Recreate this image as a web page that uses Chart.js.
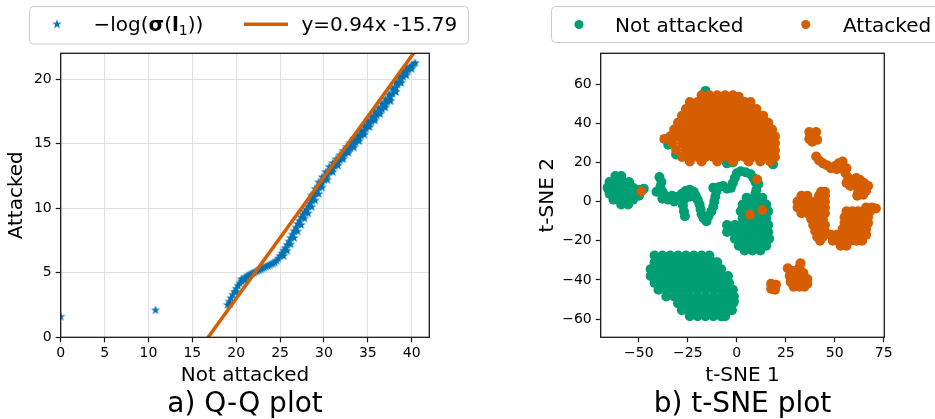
<!DOCTYPE html>
<html>
<head>
<meta charset="utf-8">
<script src="https://cdn.jsdelivr.net/npm/chart.js@4.4.1/dist/chart.umd.min.js"></script>
<style>
  html, body { margin: 0; padding: 0; background: #fff; overflow: hidden; width: 935px; height: 419px; }
  canvas { position: absolute; top: 0; }
  #qq { left: 0; }
  #tsne { left: 520px; }
</style>
</head>
<body>
<canvas id="qq" width="500" height="419"></canvas>
<canvas id="tsne" width="480" height="419"></canvas>
<script>
// ---- a) Q-Q plot ----
const qqLabel = "−log(σ(l₁))";
const qqPoints = [
  [0, 1.6], [10.8, 2.1],
  [19.0, 2.5], [19.2, 2.77], [19.4, 3.03], [19.6, 3.3], [19.8, 3.53], [20.0, 3.77], [20.2, 4.0],
  [20.4, 4.17], [20.6, 4.33], [20.8, 4.5], [21.0, 4.6], [21.2, 4.7], [21.4, 4.8], [21.6, 4.87],
  [21.8, 4.93], [22.0, 5.0], [22.2, 5.07], [22.4, 5.13], [22.6, 5.2], [22.8, 5.27], [23.0, 5.33],
  [23.2, 5.4], [23.4, 5.47], [23.6, 5.53], [23.8, 5.6], [24.0, 5.67], [24.2, 5.73], [24.4, 5.8],
  [24.6, 5.93], [24.8, 6.1], [25.0, 6.3], [25.2, 6.5], [25.4, 6.7], [25.6, 6.9], [25.8, 7.17],
  [26.0, 7.43], [26.2, 7.7], [26.4, 7.97], [26.6, 8.23], [26.8, 8.5], [27.0, 8.77], [27.2, 9.03],
  [27.4, 9.3], [27.6, 9.5], [27.8, 9.7], [28.0, 9.9], [28.2, 10.13], [28.4, 10.37], [28.6, 10.6],
  [28.8, 10.87], [29.0, 11.13], [29.2, 11.4], [29.4, 11.6], [29.6, 11.8], [29.8, 12.0], [30.0, 12.2],
  [30.2, 12.4], [30.4, 12.6], [30.6, 12.8], [30.8, 12.96], [31.0, 13.11], [31.2, 13.27], [31.4, 13.42],
  [31.6, 13.58], [31.8, 13.74], [32.0, 13.9], [32.2, 14.06], [32.4, 14.22], [32.6, 14.37], [32.8, 14.51],
  [33.0, 14.65], [33.2, 14.79], [33.4, 14.93], [33.6, 15.09], [33.8, 15.27], [34.0, 15.45], [34.2, 15.63],
  [34.4, 15.81], [34.6, 15.99], [34.8, 16.17], [35.0, 16.35], [35.2, 16.53], [35.4, 16.71], [35.6, 16.88],
  [35.8, 17.04], [36.0, 17.2], [36.2, 17.36], [36.4, 17.52], [36.6, 17.69], [36.8, 17.87], [37.0, 18.05],
  [37.2, 18.23], [37.4, 18.41], [37.6, 18.62], [37.8, 18.86], [38.0, 19.1], [38.2, 19.34], [38.4, 19.58],
  [38.6, 19.8], [38.8, 20.0], [39.0, 20.2], [39.2, 20.4], [39.4, 20.6], [39.6, 20.74], [39.8, 20.89],
  [40.0, 21.03], [40.2, 21.15], [40.4, 21.25],
  // lower/right edge of the band
  [25.4, 6.3], [25.8, 6.7], [26.2, 7.2], [26.6, 7.7], [27.0, 8.2], [27.4, 8.7], [27.8, 9.2], [28.2, 9.6],
  [28.6, 10.1], [29.0, 10.6], [29.4, 11.1], [29.8, 11.6], [30.4, 12.2], [31.0, 12.8], [31.6, 13.3],
  [32.2, 13.8], [32.8, 14.3], [33.4, 14.7], [34.0, 15.2], [34.6, 15.7], [35.2, 16.3], [35.8, 16.8],
  [36.4, 17.3], [37.0, 17.8], [37.6, 18.3], [38.2, 19.0], [38.8, 19.7], [39.4, 20.3], [40.0, 20.8],
  // upper edge of the band, under the fitted line
  [28.6, 11.0], [29.0, 11.5], [29.4, 12.0], [29.8, 12.4], [30.2, 12.8], [30.6, 13.2], [31.0, 13.5],
  [31.4, 13.8], [31.8, 14.1], [32.2, 14.45], [32.6, 14.75], [33.0, 15.05], [33.4, 15.35], [33.8, 15.65],
  [34.2, 16.0], [34.6, 16.4], [35.0, 16.75], [35.4, 17.1], [35.8, 17.45], [36.2, 17.75], [36.6, 18.1],
  [37.0, 18.45], [37.4, 18.8], [37.8, 19.25], [38.2, 19.7], [38.6, 20.15], [39.0, 20.55], [39.4, 20.9],
  [19.3, 2.6], [20.0, 3.5], [20.6, 4.5], [21.0, 4.4]
];
const fitLabel = "y=0.94x -15.79";
const fitSlope = 0.94;
const fitIntercept = -15.79;
const fitXs = [15, 42];
const qqXRange = [0, 42];
const qqYRange = [0, 22];
const qqXTicks = [0, 5, 10, 15, 20, 25, 30, 35, 40];
const qqYTicks = [0, 5, 10, 15, 20];

// ---- b) t-SNE plot ----
const notAttackedLabel = "Not attacked";
const attackedLabel = "Attacked";
const notAttackedPts = [
  // left blob
  [-62, 13], [-59, 13], [-65, 10], [-62, 10], [-58.5, 10], [-55, 10],
  [-66, 7], [-63, 7], [-59.5, 7], [-56, 7], [-53, 7], [-65, 4], [-62, 4], [-58.5, 4], [-55, 4], [-52, 4],
  [-63, 1], [-60, 1], [-56.5, 1], [-53, 1], [-59, -1.5], [-55.5, -1.5],
  [-50, 6], [-47.5, 6.5], [-50, 3],
  // middle chain
  [-39.5, 12.5], [-38.5, 10], [-39, 7.5], [-41, 5], [-38, 5], [-36.5, 3], [-38, 1.5], [-35, 1],
  [-33, 3], [-32, 0], [-30, 2.5], [-28, 4], [-26, 5.5], [-24, 6], [-22, 5], [-21, 3], [-24, 2.5],
  [-27, 1], [-27.5, -2], [-27, -5], [-26.5, -7.5],
  [-20, 1], [-19, -1.5], [-18.5, -4], [-18, -6.5], [-17, -8.5], [-15.5, -10], [-14.5, -7.5],
  [-13, -5], [-12, -2.5], [-11.5, 0], [-11, 2.5], [-10.5, 5], [-12, 7], [-9, 7.5], [-7, 8],
  [-5, 6.5], [-3, 7], [-2, 9.5], [-1, 12], [0, 14.5], [2, 15.5], [4.5, 15], [7, 14], [8.5, 12],
  [9.5, 10], [11, 9], [10, 6], [9.5, 4],
  // right blob
  [5, 2], [9, 2], [13, 2], [3, -1.5], [7, -1.5], [11, -1.5], [15, -1.5],
  [2, -5], [5, -5], [9, -5], [13, -5], [16, -5], [3, -8.5], [7, -8.5], [11, -8.5], [15, -8.5],
  [-5, -12], [-1, -12], [2, -12], [5, -12], [9, -12], [13, -12], [16, -12],
  [-5, -15.5], [-2, -15.5], [1, -15.5], [4, -15.5], [8, -15.5], [12, -15.5], [16, -15.5],
  [-1, -19], [2, -19], [6, -19], [10, -19], [14, -19], [16.5, -19],
  [1, -22.5], [4, -22.5], [8, -22.5], [12, -22.5], [15, -22.5], [4, -25], [8, -25], [12, -25],
  // bottom blob
  [-42, -27.5], [-38, -27.5], [-34, -27.5], [-30, -27.5], [-26, -27.5], [-22, -27.5], [-18, -27.5], [-14, -27.5],
  [-42, -31], [-40, -31], [-36, -31], [-32, -31], [-28, -31], [-24, -31], [-20, -31], [-16, -31], [-12, -31], [-10, -31],
  [-44, -34.5], [-42, -34.5], [-38, -34.5], [-34, -34.5], [-30, -34.5], [-26, -34.5], [-22, -34.5], [-18, -34.5], [-14, -34.5], [-10, -34.5], [-8, -34.5],
  [-44, -38], [-40, -38], [-36, -38], [-32, -38], [-28, -38], [-24, -38], [-20, -38], [-16, -38], [-12, -38], [-8, -38], [-4.5, -38],
  [-42, -41.5], [-38, -41.5], [-34, -41.5], [-30, -41.5], [-26, -41.5], [-22, -41.5], [-18, -41.5], [-14, -41.5], [-10, -41.5], [-6, -41.5], [-4, -41.5],
  [-40, -45], [-36, -45], [-32, -45], [-28, -45], [-24, -45], [-20, -45], [-16, -45], [-12, -45], [-8, -45], [-4, -45], [-2, -45],
  [-36, -48.5], [-32, -48.5], [-28, -48.5], [-24, -48.5], [-20, -48.5], [-16, -48.5], [-12, -48.5], [-8, -48.5], [-4, -48.5], [-1.5, -48.5],
  [-30, -52], [-26, -52], [-22, -52], [-18, -52], [-14, -52], [-10, -52], [-6, -52], [-2, -52], [-1.5, -51],
  [-28, -55.5], [-24, -55.5], [-20, -55.5], [-16, -55.5], [-12, -55.5], [-8, -55.5], [-4, -55.5], [-2.5, -55.5],
  [-24, -58.5], [-20, -58.5], [-16, -58.5], [-12, -58.5], [-8, -58.5], [-6, -58.5],
  // peeking out under the attacked cluster
  [-35, 29], [-31, 24], [-5, 19.5], [-2, 20], [18.5, 19], [-16, 56.5]
];
const attackedPts = [
  // top cluster
  [-18, 54.3], [-14, 54.3], [-10, 54.3], [-6, 54.3], [-2, 54.3], [1, 53.5],
  [-24, 50.8], [-20, 50.8], [-16, 50.8], [-12, 50.8], [-8, 50.8], [-4, 50.8], [0, 50.8], [4, 50.8], [7, 50.8],
  [-26, 47.3], [-22, 47.3], [-18, 47.3], [-14, 47.3], [-10, 47.3], [-6, 47.3], [-2, 47.3], [2, 47.3], [6, 47.3], [10, 47.3],
  [-28, 43.8], [-24, 43.8], [-20, 43.8], [-16, 43.8], [-12, 43.8], [-8, 43.8], [-4, 43.8], [0, 43.8], [4, 43.8], [8, 43.8], [12, 43.8], [13.5, 43.8],
  [-30, 40.3], [-26, 40.3], [-22, 40.3], [-18, 40.3], [-14, 40.3], [-10, 40.3], [-6, 40.3], [-2, 40.3], [2, 40.3], [6, 40.3], [10, 40.3], [14, 40.3], [16, 40.3],
  [-32, 36.8], [-28, 36.8], [-24, 36.8], [-20, 36.8], [-16, 36.8], [-12, 36.8], [-8, 36.8], [-4, 36.8], [0, 36.8], [4, 36.8], [8, 36.8], [12, 36.8], [16, 36.8], [18, 36.8],
  [-34, 33.3], [-30, 33.3], [-26, 33.3], [-22, 33.3], [-18, 33.3], [-14, 33.3], [-10, 33.3], [-6, 33.3], [-2, 33.3], [2, 33.3], [6, 33.3], [10, 33.3], [14, 33.3], [18, 33.3], [19.5, 33.3],
  [-33, 29.8], [-28, 29.8], [-24, 29.8], [-20, 29.8], [-16, 29.8], [-12, 29.8], [-8, 29.8], [-4, 29.8], [0, 29.8], [4, 29.8], [8, 29.8], [12, 29.8], [16, 29.8], [19.5, 29.8],
  [-31, 26.3], [-26, 26.3], [-22, 26.3], [-18, 26.3], [-14, 26.3], [-10, 26.3], [-6, 26.3], [-2, 26.3], [2, 26.3], [6, 26.3], [10, 26.3], [14, 26.3], [18, 26.3], [19.5, 26.3],
  [-28, 22.8], [-24, 22.8], [-20, 22.8], [-16, 22.8], [-12, 22.8], [-8, 22.8], [-4, 22.8], [0, 22.8], [4, 22.8], [8, 22.8], [12, 22.8], [16, 22.8], [19.5, 22.8],
  [-24, 20.5], [-18, 20.5], [-10, 20.5], [-2, 20.5], [6, 20.5], [12, 20.5], [17, 20.5], [-37, 32],
  // stray points on the not-attacked clusters
  [-48.8, 5.1], [6.7, -6.7], [13, -4.3], [10.4, 11.3],
  // small blob upper right
  [37, 35.5], [40.5, 35.5], [37, 32], [41, 31.5], [39, 33.5], [38.5, 30.5],
  // upper arc
  [40.5, 23], [42, 21], [44, 19.5], [46, 18.5], [48, 17], [50, 18], [52, 19.5], [54, 20.5], [51, 16.5],
  [53.5, 17], [56, 17], [55.5, 14.5], [57, 12], [56, 9.5], [58, 8], [59.5, 10.5], [61, 12], [63, 11],
  [65, 9.5], [67, 8], [61, 8.5], [63.5, 7], [66, 5.5], [62, 5], [64.5, 3.5], [61.5, 3],
  // left part of ring
  [43, 5], [45, 5], [33, 3], [36, 3], [42, 3], [45, 3],
  [31, 0], [34, 0], [37, 0], [40, 0], [43, 0], [45, 0],
  [31, -3], [34, -3], [37, -3], [40, -3], [43, -3], [45, -3],
  [33, -6], [36, -6], [39, -6], [42, -6], [45, -6],
  [38, -9], [41, -9], [44, -9], [39, -12], [42, -12], [45, -12],
  [40, -15], [43, -15], [45, -15], [41, -18], [44, -18], [42.5, -20],
  // lower right part of ring
  [66, -3], [69, -3], [71, -3.5],
  [56, -5], [59, -5], [62, -5], [65, -5], [68, -5],
  [55, -8], [58, -8], [61, -8], [64, -8], [67, -8],
  [55, -11], [58, -11], [61, -11], [64, -11], [67, -11],
  [54, -14], [57, -14], [60, -14], [63, -14], [66, -14],
  [48, -17], [51, -17], [54, -17], [57, -17], [60, -17], [63, -17], [66, -17],
  [49, -20], [52, -20], [55, -20], [58, -20], [61, -20], [64, -20], [53, -22.5], [56, -22.5],
  // bottom clusters
  [26, -34], [28.5, -35.5], [31, -35], [32.5, -31.5], [32, -33.5], [34, -36.5], [27, -38], [30, -38],
  [33, -38.5], [36, -39.5], [27.5, -41], [30.5, -41], [33.5, -41.5], [36, -42], [29, -43.5], [32, -43.5], [34.5, -43.5],
  [17.5, -42], [20, -42.5], [17.5, -44.5], [19.5, -45]
];
const tsneXRange = [-69.5, 75.3];
const tsneYRange = [-69.3, 75.7];
const tsneXTicks = [-50, -25, 0, 25, 50, 75];
const tsneYTicks = [-60, -40, -20, 0, 20, 40, 60];

const blue = "#0072B2";
const orange = "#D55E00";
const green = "#009E73";
const FONT = "DejaVu Sans";

function makeStar(color, r) {
  const c = document.createElement("canvas");
  const s = Math.ceil(r * 2 + 2);
  c.width = s; c.height = s;
  const g = c.getContext("2d");
  g.fillStyle = color;
  g.beginPath();
  for (let i = 0; i < 10; i++) {
    const rad = i % 2 === 0 ? r : r * 0.382;
    const a = -Math.PI / 2 + i * Math.PI / 5;
    const x = s / 2 + rad * Math.cos(a), y = s / 2 + rad * Math.sin(a);
    if (i === 0) g.moveTo(x, y); else g.lineTo(x, y);
  }
  g.closePath();
  g.fill();
  return c;
}
const star = makeStar(blue, 5);

const minus = (v) => String(v).replace("-", "−");

// black frame on all four sides (matplotlib spines)
const framePlugin = {
  id: "frame",
  afterDatasetsDraw(chart) {
    const { ctx, chartArea: a } = chart;
    ctx.save();
    ctx.strokeStyle = "#1a1a1a";
    ctx.lineWidth = 1.3;
    ctx.strokeRect(a.left, a.top, a.right - a.left, a.bottom - a.top);
    ctx.restore();
  }
};

// matplotlib-like legend box drawn from the datasets
const legendPlugin = {
  id: "mplLegend",
  afterDraw(chart, args, opts) {
    const { ctx } = chart;
    const b = opts.box;
    ctx.save();
    ctx.beginPath();
    ctx.roundRect(b.x, b.y, b.w, b.h, 4);
    ctx.fillStyle = "rgba(255,255,255,0.8)";
    ctx.fill();
    ctx.strokeStyle = "#cccccc";
    ctx.lineWidth = 1;
    ctx.stroke();
    opts.items.forEach((it) => {
      const ds = chart.data.datasets[it.dataset];
      const cy = b.y + b.h / 2 + (it.dy || 0);
      if (it.marker === "star") {
        ctx.drawImage(star, it.mx - star.width / 2, cy - star.height / 2);
      } else if (it.marker === "line") {
        ctx.strokeStyle = ds.borderColor;
        ctx.lineWidth = 3.5;
        ctx.beginPath();
        ctx.moveTo(it.mx - 22, cy);
        ctx.lineTo(it.mx + 22, cy);
        ctx.stroke();
      } else {
        ctx.fillStyle = ds.backgroundColor;
        ctx.beginPath();
        ctx.arc(it.mx, cy, 4.5, 0, Math.PI * 2);
        ctx.fill();
      }
      ctx.fillStyle = "#000";
      ctx.textBaseline = "alphabetic";
      let x = it.tx;
      const runs = it.runs || [[ds.label, ""]];
      runs.forEach(([t, kind]) => {
        let size = 20, dy = 0, weight = "normal";
        if (kind === "bold") weight = "bold";
        if (kind === "sub") { size = 14; dy = 4; }
        ctx.font = `${weight} ${size}px "${FONT}"`;
        ctx.fillText(t, x, it.base + dy);
        x += ctx.measureText(t).width;
      });
    });
    ctx.restore();
  }
};

function axis(range, ticks, fixed, isX, titleText, titlePad, grid) {
  return {
    type: "linear",
    min: range[0],
    max: range[1],
    afterBuildTicks: (s) => { s.ticks = ticks.map((v) => ({ value: v })); },
    afterFit: (s) => { if (isX) s.height = fixed; else s.width = fixed; },
    border: { display: false },
    grid: {
      display: true,
      drawOnChartArea: grid,
      color: "#e0e0e0",
      lineWidth: 1,
      tickColor: "#1a1a1a",
      tickLength: 5,
      tickWidth: 1.2
    },
    ticks: {
      autoSkip: false,
      maxRotation: 0,
      color: "#000",
      padding: isX ? 3 : 4,
      font: { family: FONT, size: 14 },
      callback: (v) => minus(v)
    },
    title: {
      display: true,
      text: titleText,
      color: "#000",
      font: { family: FONT, size: 20, lineHeight: 1 },
      padding: titlePad
    }
  };
}

function caption(text) {
  return {
    display: true,
    position: "bottom",
    fullSize: false,
    text: text,
    color: "#000",
    font: { family: FONT, size: 28, weight: "normal", lineHeight: 1 },
    padding: { top: 3, bottom: 0 }
  };
}

new Chart(document.getElementById("qq"), {
  type: "scatter",
  data: {
    datasets: [
      {
        label: qqLabel,
        data: qqPoints.map(([x, y]) => ({ x, y })),
        pointStyle: star,
        pointRadius: 5,
        backgroundColor: blue,
        borderColor: blue,
        order: 2
      },
      {
        label: fitLabel,
        data: fitXs.map((x) => ({ x, y: fitSlope * x + fitIntercept })),
        showLine: true,
        pointRadius: 0,
        borderColor: orange,
        backgroundColor: orange,
        borderWidth: 3.5,
        order: 1
      }
    ]
  },
  options: {
    responsive: false,
    animation: false,
    devicePixelRatio: 1,
    layout: { padding: { left: 0, right: 70.7, top: 53.3, bottom: 0 } },
    plugins: {
      legend: { display: false },
      tooltip: { enabled: false },
      title: caption("a) Q-Q plot"),
      mplLegend: {
        box: { x: 29.5, y: 6.5, w: 439, h: 37.5 },
        items: [
          { dataset: 0, marker: "star", mx: 57, tx: 93.5, base: 31, dy: -1,
            runs: [["−log(", ""], ["σ", "bold"], ["(", ""], ["l", "bold"], ["1", "sub"], ["))", ""]] },
          { dataset: 1, marker: "line", mx: 266, tx: 301.5, base: 31, dy: -1 }
        ]
      }
    },
    scales: {
      x: axis(qqXRange, qqXTicks, 50.7, true, "Not attacked", { top: 0, bottom: 2 }, true),
      y: axis(qqYRange, qqYTicks, 60.7, false, "Attacked", { top: 7, bottom: 0 }, true)
    }
  },
  plugins: [framePlugin, legendPlugin]
});

new Chart(document.getElementById("tsne"), {
  type: "scatter",
  data: {
    datasets: [
      {
        label: notAttackedLabel,
        data: notAttackedPts.map(([x, y]) => ({ x, y })),
        pointRadius: 5,
        borderWidth: 0,
        backgroundColor: green,
        borderColor: green,
        order: 2
      },
      {
        label: attackedLabel,
        data: attackedPts.map(([x, y]) => ({ x, y })),
        pointRadius: 5,
        borderWidth: 0,
        backgroundColor: orange,
        borderColor: orange,
        order: 1
      }
    ]
  },
  options: {
    responsive: false,
    animation: false,
    devicePixelRatio: 1,
    layout: { padding: { left: 0, right: 115.7, top: 53.3, bottom: 0 } },
    plugins: {
      legend: { display: false },
      tooltip: { enabled: false },
      title: caption("b) t-SNE plot"),
      mplLegend: {
        box: { x: 31.5, y: 6.5, w: 430, h: 36 },
        items: [
          { dataset: 0, marker: "dot", mx: 59, tx: 95, base: 31.5 },
          { dataset: 1, marker: "dot", mx: 285.7, tx: 323, base: 31.5 }
        ]
      }
    },
    scales: {
      x: axis(tsneXRange, tsneXTicks, 50.7, true, "t-SNE 1", { top: 0, bottom: 2 }, false),
      y: axis(tsneYRange, tsneYTicks, 80.7, false, "t-SNE 2", { top: 17.5, bottom: 0 }, false)
    }
  },
  plugins: [framePlugin, legendPlugin]
});
</script>
</body>
</html>
